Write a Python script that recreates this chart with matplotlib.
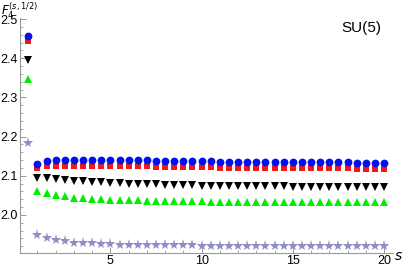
import numpy as np
import matplotlib
matplotlib.use("Agg")
import matplotlib.pyplot as plt
from matplotlib.ticker import MultipleLocator

plt.rcParams['font.family'] = ['Liberation Sans', 'DejaVu Sans']

# s values (step 0.5)
s = np.arange(0.5, 20.01, 0.5)

blue = [2.458, 2.131, 2.137, 2.140, 2.141, 2.141, 2.141, 2.141, 2.140, 2.140,
        2.140, 2.139, 2.139, 2.139, 2.138, 2.138, 2.138, 2.137, 2.137, 2.137,
        2.137, 2.136, 2.136, 2.136, 2.136, 2.135, 2.135, 2.135, 2.135, 2.135,
        2.134, 2.134, 2.134, 2.134, 2.134, 2.134, 2.133, 2.133, 2.133, 2.133]
red = [2.444, 2.120, 2.124, 2.126, 2.126, 2.126, 2.126, 2.126, 2.125, 2.125,
       2.125, 2.124, 2.124, 2.124, 2.123, 2.123, 2.123, 2.122, 2.122, 2.122,
       2.122, 2.121, 2.121, 2.121, 2.121, 2.120, 2.120, 2.120, 2.120, 2.120,
       2.119, 2.119, 2.119, 2.119, 2.119, 2.119, 2.118, 2.118, 2.118, 2.118]
black = [2.395, 2.094, 2.093, 2.091, 2.089, 2.087, 2.086, 2.084, 2.083, 2.082,
         2.081, 2.080, 2.079, 2.079, 2.078, 2.077, 2.077, 2.076, 2.076, 2.075,
         2.075, 2.075, 2.074, 2.074, 2.074, 2.073, 2.073, 2.073, 2.073, 2.072,
         2.072, 2.072, 2.072, 2.072, 2.071, 2.071, 2.071, 2.071, 2.071, 2.071]
green = [2.347, 2.061, 2.056, 2.051, 2.047, 2.044, 2.042, 2.041, 2.040, 2.039,
         2.038, 2.037, 2.037, 2.036, 2.036, 2.036, 2.035, 2.035, 2.035, 2.035,
         2.034, 2.034, 2.034, 2.034, 2.034, 2.034, 2.034, 2.033, 2.033, 2.033,
         2.033, 2.033, 2.033, 2.033, 2.033, 2.033, 2.033, 2.033, 2.033, 2.033]
stars = [2.183, 1.949, 1.940, 1.935, 1.932, 1.929, 1.928, 1.927, 1.926, 1.925,
         1.924, 1.924, 1.923, 1.923, 1.923, 1.922, 1.922, 1.922, 1.922, 1.921,
         1.921, 1.921, 1.921, 1.921, 1.921, 1.921, 1.920, 1.920, 1.920, 1.920,
         1.920, 1.920, 1.920, 1.920, 1.920, 1.920, 1.920, 1.920, 1.920, 1.920]

fig = plt.figure(figsize=(4.03, 2.66), dpi=100)
ax = fig.add_axes([20/403, 1-253/266, 373/403, 235/266])

ax.plot(s, stars, ls='none', marker='*', ms=8, color='#8f8fc6', mew=0)
ax.plot(s, green, ls='none', marker='^', ms=6.2, color='#00ee00', mew=0)
ax.plot(s, black, ls='none', marker='v', ms=6.2, color='black', mew=0)
ax.plot(s, red, ls='none', marker='s', ms=5, color='#f01818', mew=0)
ax.plot(s, blue, ls='none', marker='o', ms=5.6, color='#0010f0', mew=0)

ax.set_xlim(0.045, 20.49)
ax.set_ylim(1.9026, 2.503)

for sp in ['top', 'right']:
    ax.spines[sp].set_visible(False)
for sp in ['left', 'bottom']:
    ax.spines[sp].set_color('#999999')
    ax.spines[sp].set_linewidth(0.8)

ax.xaxis.set_major_locator(MultipleLocator(5))
ax.xaxis.set_minor_locator(MultipleLocator(1))
ax.yaxis.set_major_locator(MultipleLocator(0.1))
ax.yaxis.set_minor_locator(MultipleLocator(0.02))
ax.set_yticks([2.0, 2.1, 2.2, 2.3, 2.4, 2.5])
ax.set_yticklabels(['2.0', '2.1', '2.2', '2.3', '2.4', '2.5'])
ax.tick_params(which='both', direction='in', color='#999999', labelsize=9)
ax.tick_params(axis='x', pad=1.5)
ax.tick_params(axis='y', pad=2)
ax.tick_params(which='major', length=4, width=0.7)
ax.tick_params(which='minor', length=2.3, width=0.6)

fig.text(1/403, 1-0.5/266, r'$F_4^{(s,1/2)}$', fontsize=8.5, va='top', ha='left')
fig.text(398/403, 1-256/266, r'$s$', fontsize=10, va='center', ha='center')
fig.text(361/403, 1-28/266, 'SU(5)', fontsize=11, va='center', ha='center')

fig.savefig('out.png', dpi=100)
